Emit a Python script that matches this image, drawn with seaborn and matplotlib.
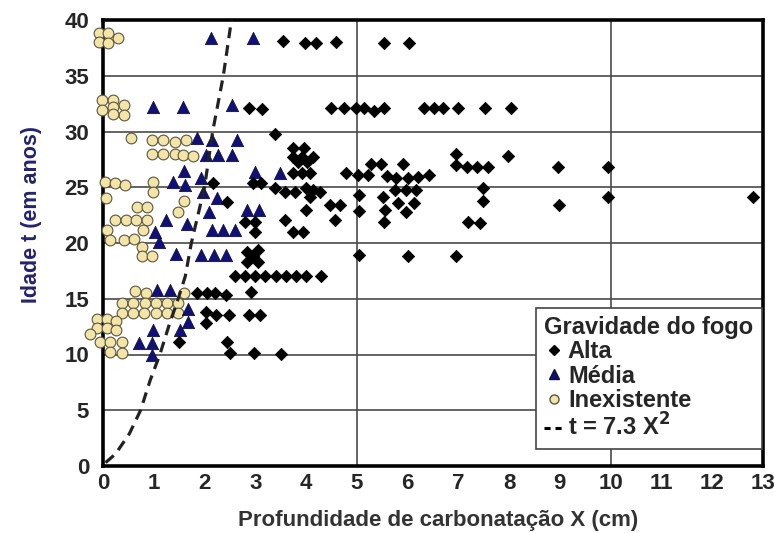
import numpy as np
import pandas as pd
import matplotlib
matplotlib.use("Agg")
import matplotlib.pyplot as plt
from matplotlib.lines import Line2D
import seaborn as sns

# --- datos ---
alta_x = [3.55, 3.97, 4.2, 4.58, 5.53, 6.03,
          2.87, 3.13, 4.5, 4.75, 4.98, 5.15, 5.34, 5.54, 6.32, 6.51, 6.70, 6.99, 7.53, 8.04,
          3.39, 3.75, 3.96, 3.75, 3.92, 4.14, 3.84, 4.01,
          3.75, 3.92, 4.07, 4.78, 5.03, 5.21, 5.28, 5.48, 5.59, 5.78, 5.91, 6.0, 6.21, 6.42,
          6.96, 6.96, 7.16, 7.37, 7.58, 7.98, 8.96, 9.94,
          5.75, 5.97, 6.17, 7.49,
          5.04, 5.04, 5.52, 5.56, 5.53, 5.81, 6.13, 5.97, 7.49, 7.19, 7.43, 8.98, 9.94, 12.8,
          5.04, 6.0, 6.96,
          2.16, 2.45, 2.96, 3.12, 3.39, 3.58, 3.78, 4.0, 4.14, 4.27, 4.07, 4.0, 4.48, 4.67, 4.57,
          2.8, 3.0, 3.0, 3.58, 3.75, 3.94,
          2.83, 3.06, 2.96, 2.83, 3.06,
          2.6, 2.8, 3.0, 3.2, 3.4, 3.6, 3.8, 4.0, 4.3,
          2.43, 2.92, 1.85, 2.05, 2.2, 2.03, 2.23, 2.03, 2.48, 2.87, 3.09,
          1.49, 2.45, 2.5, 2.98, 3.5]
alta_t = [38.1, 37.9, 37.9, 38.0, 37.9, 37.9,
          32.1, 32.0, 32.1, 32.1, 32.1, 32.1, 31.8, 32.1, 32.1, 32.1, 32.1, 32.1, 32.1, 32.1,
          29.8, 28.5, 28.5, 27.7, 27.7, 27.7, 27.3, 27.3,
          26.25, 26.25, 26.25, 26.25, 26.1, 26.1, 27.1, 27.1, 26.0, 25.8, 27.1, 25.8, 25.9, 26.1,
          28.0, 27.0, 26.85, 26.85, 26.85, 27.8, 26.85, 26.85,
          24.75, 24.75, 24.75, 24.9,
          24.3, 22.9, 24.15, 23.0, 21.9, 23.55, 23.55, 22.8, 23.8, 21.9, 21.8, 23.4, 24.1, 24.1,
          18.9, 18.8, 18.8,
          25.35, 23.7, 25.35, 25.35, 24.9, 24.6, 24.6, 24.9, 24.75, 24.6, 24.15, 23.0, 23.4, 23.4, 22.1,
          21.9, 21.9, 21.0, 22.1, 21.0, 21.0,
          19.2, 19.4, 18.8, 18.3, 18.3,
          17.0, 17.0, 17.0, 17.0, 17.0, 17.0, 17.0, 17.0, 17.0,
          15.3, 15.6, 15.5, 15.5, 15.5, 13.8, 13.5, 12.8, 13.5, 13.5, 13.5,
          11.15, 11.1, 10.1, 10.1, 10.05]

media_x = [2.13, 2.95,
           0.99, 1.58, 2.55,
           1.86, 2.15, 2.63, 2.02, 2.27, 2.54,
           3.0, 3.48,
           1.6, 1.37, 1.62, 1.93, 1.97, 2.25, 2.08, 1.65, 1.24, 1.02, 1.1, 1.44,
           2.14, 2.36, 2.6, 1.93, 2.18, 2.42, 2.84, 3.08,
           1.06, 1.31,
           1.68, 1.68, 1.51, 0.98, 0.71, 0.97, 0.97]
media_t = [38.4, 38.4,
           32.2, 32.2, 32.4,
           29.4, 29.2, 29.2, 27.9, 27.9, 27.9,
           26.4, 26.3,
           26.5, 25.5, 25.2, 25.8, 24.6, 24.0, 22.8, 21.7, 22.1, 21.0, 20.1, 19.0,
           21.2, 21.2, 21.2, 18.9, 18.9, 18.9, 23.0, 23.0,
           15.8, 15.8,
           14.1, 12.9, 12.2, 12.2, 11.0, 11.0, 10.0]

inex_x = [-0.08, 0.1, -0.08, 0.1, 0.3,
          -0.02, 0.2, -0.02, 0.2, 0.42, 0.42, 0.2,
          0.55, 0.97, 1.19, 1.41, 1.63, 0.97, 1.19, 1.41, 1.58, 1.77,
          0.03, 0.23, 0.43, 0.98, 0.98, 0.05, 1.59, 1.47, 0.67, 0.87,
          0.24, 0.45, 0.65, 0.87, 0.78, 0.08, 0.14, 0.41, 0.62, 0.76, 0.76, 0.96,
          0.63, 0.84, 1.6,
          0.38, 0.59, 0.82, 1.05, 1.27, 1.47,
          0.38, 0.59, 0.81, 1.04, 1.27, 1.47,
          -0.12, 0.07, 0.26, -0.12, 0.07, 0.26, -0.25, -0.05, 0.14, 0.38, 0.14, 0.38]
inex_t = [38.8, 38.8, 38.0, 37.9, 38.4,
          32.8, 32.8, 31.9, 32.2, 32.4, 31.5, 31.6,
          29.4, 29.2, 29.2, 29.1, 29.2, 28.0, 28.0, 28.0, 27.9, 27.8,
          25.5, 25.35, 25.2, 25.5, 24.6, 24.0, 23.8, 22.8, 23.2, 23.2,
          22.1, 22.1, 22.1, 22.1, 21.2, 21.2, 20.3, 20.3, 20.4, 19.6, 18.8, 18.8,
          15.7, 15.5, 15.5,
          14.6, 14.6, 14.6, 14.6, 14.6, 14.6,
          13.7, 13.7, 13.7, 13.7, 13.7, 13.7,
          13.2, 13.2, 13.0, 12.4, 12.4, 12.2, 11.8, 11.1, 11.15, 11.15, 10.2, 10.15]

# curva tracejada t = 7.3 X^2
curva_x = [0.05, 0.25, 0.52, 0.74, 0.93, 1.12, 1.3, 1.48, 1.62, 1.74, 2.0, 2.16, 2.37, 2.53]
curva_t = [0.3, 1.1, 2.9, 5.0, 7.7, 10.0, 12.6, 15.0, 17.0, 20.0, 25.0, 30.0, 35.0, 40.0]

x_ticks = list(range(0, 14))
y_ticks = list(range(0, 45, 5))
x_grid = [5, 10]

df = pd.concat([
    pd.DataFrame({'X': alta_x, 't': alta_t, 'fogo': 'Alta'}),
    pd.DataFrame({'X': media_x, 't': media_t, 'fogo': 'Média'}),
    pd.DataFrame({'X': inex_x, 't': inex_t, 'fogo': 'Inexistente'}),
], ignore_index=True)

sns.set_theme(style='white')
plt.rcParams['font.family'] = ['Liberation Sans', 'DejaVu Sans']
plt.rcParams['font.weight'] = 'bold'

fig = plt.figure(figsize=(7.74, 5.33), dpi=100)
ax = fig.add_axes([103 / 774, 1 - 466 / 533, 660 / 774, 446 / 533])

# grade
for g in y_ticks[1:-1]:
    ax.axhline(g, color='#4a4a4a', lw=1.2, zorder=0)
for g in x_grid:
    ax.axvline(g, color='#4a4a4a', lw=1.2, zorder=0)

estilos = {
    'Inexistente': dict(marker='o', color='#F3E4A8', s=60, edgecolor='#5a5540', linewidth=0.8),
    'Média': dict(marker='^', color='#10107A', s=78, edgecolor='#111133', linewidth=0.6),
    'Alta': dict(marker='D', color='black', s=40, edgecolor='black', linewidth=0.5),
}
for cat in ['Inexistente', 'Média', 'Alta']:
    sub = df[df['fogo'] == cat]
    sns.scatterplot(data=sub, x='X', y='t', ax=ax, legend=False, clip_on=False, zorder=3,
                    **estilos[cat])

sns.lineplot(x=curva_x, y=curva_t, ax=ax, sort=False, estimator=None, color='#222222',
             lw=2.3, linestyle=(0, (3.4, 2.2)), zorder=4)

ax.set_xlim(0, 13)
ax.set_ylim(0, 40)
ax.set_xticks(x_ticks)
ax.set_yticks(y_ticks)
ax.tick_params(axis='both', direction='in', length=6, width=1.2, color='#333333',
               labelsize=16)
ax.tick_params(axis='x', pad=5)
ax.tick_params(axis='y', pad=10)
for lab in ax.get_xticklabels() + ax.get_yticklabels():
    lab.set_fontweight('bold')
for sp in ax.spines.values():
    sp.set_color('black')
    sp.set_linewidth(2.6)

ax.set_xlabel('Profundidade de carbonatação X (cm)', fontsize=16, fontweight='bold',
              color='#333333')
ax.xaxis.set_label_coords(0.508, -0.098)
ax.set_ylabel('Idade t (em anos)', fontsize=15.5, fontweight='bold', color='#24246a')
ax.yaxis.set_label_coords(-0.092, 0.565)

# legenda
handles = [
    Line2D([], [], marker='D', color='black', linestyle='none', markersize=5.5),
    Line2D([], [], marker='^', color='#10107A', markeredgecolor='#111133', linestyle='none', markersize=6.5),
    Line2D([], [], marker='o', color='#F3E4A8', markeredgecolor='#5a5540', linestyle='none', markersize=6.5),
    Line2D([], [], color='black', lw=2.2, linestyle=(0, (2, 1.6))),
]
labels = ['Alta', 'Média', 'Inexistente', 't = 7.3 X$^\\mathbf{2}$']
leg = ax.legend(handles, labels, title='Gravidade do fogo', loc='lower right',
                bbox_to_anchor=(0.998, 0.038), borderaxespad=0, fancybox=False,
                framealpha=1, edgecolor='#444444', fontsize=17, title_fontsize=17,
                handlelength=0.8, handletextpad=0.2, labelspacing=0.06,
                borderpad=0.35, alignment='left')
leg.get_title().set_fontweight('bold')
leg.get_frame().set_linewidth(1.2)
for t in leg.get_texts():
    t.set_fontweight('bold')

fig.savefig('out.png', dpi=100)
